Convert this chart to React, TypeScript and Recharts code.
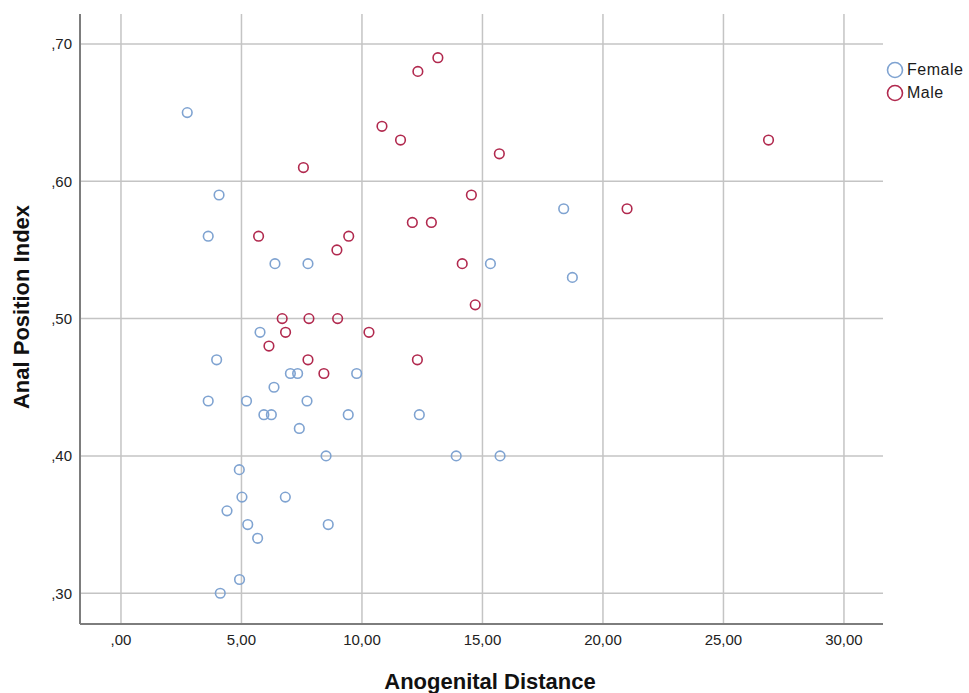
import React from 'react';
import { ScatterChart, Scatter, XAxis, YAxis, CartesianGrid } from 'recharts';

const femaleX = [2.75, 4.07, 3.62, 6.39, 7.76, 5.77, 18.37, 15.33, 18.73, 3.97, 7.03, 7.33, 9.78, 6.35, 3.62, 5.21, 7.72, 5.93, 6.24, 9.43, 12.38, 7.40, 8.51, 13.91, 15.73, 4.91, 5.02, 6.82, 4.40, 5.26, 8.60, 5.67, 4.92, 4.12];
const femaleY = [0.65, 0.59, 0.56, 0.54, 0.54, 0.49, 0.58, 0.54, 0.53, 0.47, 0.46, 0.46, 0.46, 0.45, 0.44, 0.44, 0.44, 0.43, 0.43, 0.43, 0.43, 0.42, 0.40, 0.40, 0.40, 0.39, 0.37, 0.37, 0.36, 0.35, 0.35, 0.34, 0.31, 0.30];

const maleX = [13.15, 12.32, 10.83, 11.60, 7.57, 14.54, 12.09, 12.88, 5.71, 9.45, 8.96, 14.16, 14.70, 6.69, 7.80, 8.99, 6.83, 10.29, 6.14, 15.70, 21.00, 26.87, 7.76, 12.30, 8.42];
const maleY = [0.69, 0.68, 0.64, 0.63, 0.61, 0.59, 0.57, 0.57, 0.56, 0.56, 0.55, 0.54, 0.51, 0.50, 0.50, 0.50, 0.49, 0.49, 0.48, 0.62, 0.58, 0.63, 0.47, 0.47, 0.46];

const xTicks = [0, 5, 10, 15, 20, 25, 30];
const yTicks = [0.3, 0.4, 0.5, 0.6, 0.7];

const seriesNames = ['Female', 'Male'];
const colors = ['#7fa3d1', '#b1294e'];

const femaleData = femaleX.map((x, i) => ({ x, y: femaleY[i] }));
const maleData = maleX.map((x, i) => ({ x, y: maleY[i] }));

const fmt = (v: number) => {
  const s = v.toFixed(2).replace('.', ',');
  return s.startsWith('0,') ? s.slice(1) : s;
};

const FONT = '"Liberation Sans", Arial, sans-serif';

const makeShape = (color: string) => (props: any) => (
  <circle cx={props.cx} cy={props.cy} r={4.8} fill="none" stroke={color} strokeWidth={1.6} />
);

const LegendBox = () => (
  <div style={{ position: 'absolute', left: 885, top: 58, fontFamily: FONT, fontSize: 16, color: '#1a1a1a' }}>
    {seriesNames.map((n, i) => (
      <div key={n} style={{ display: 'flex', alignItems: 'center', height: 23 }}>
        <svg width={20} height={20} style={{ marginRight: 2 }}>
          <circle cx={10} cy={10} r={7.5} fill="none" stroke={colors[i]} strokeWidth={1.6} />
        </svg>
        <span style={{ letterSpacing: 0.5 }}>{n}</span>
      </div>
    ))}
  </div>
);

export default function App() {
  return (
    <div style={{ position: 'absolute', left: 0, top: 0, width: 969, height: 693, background: '#fff' }}>
      <ScatterChart width={969} height={693} margin={{ top: 14, right: 86, bottom: 0, left: 0 }}>
        <CartesianGrid stroke="#c4c4c4" strokeWidth={1.5} syncWithTicks />
        <XAxis
          type="number"
          dataKey="x"
          domain={[-1.7, 31.62]}
          ticks={xTicks}
          allowDataOverflow
          height={69}
          tickFormatter={fmt}
          tickLine={false}
          tickMargin={4}
          axisLine={{ stroke: '#7d7d7d', strokeWidth: 2 }}
          tick={{ fill: '#222', fontSize: 15, fontFamily: FONT }}
          label={{
            content: () => (
              <text x={490} y={689} textAnchor="middle" fontFamily={FONT} fontWeight="bold" fontSize={22} fill="#111">
                Anogenital Distance
              </text>
            ),
          }}
        />
        <YAxis
          type="number"
          dataKey="y"
          domain={[0.2776, 0.7218]}
          ticks={yTicks}
          allowDataOverflow
          width={80}
          tickFormatter={fmt}
          tickLine={false}
          tickMargin={2}
          axisLine={{ stroke: '#7d7d7d', strokeWidth: 2 }}
          tick={{ fill: '#222', fontSize: 15, fontFamily: FONT }}
          label={{
            content: () => (
              <text
                x={29}
                y={307}
                transform="rotate(-90 29 307)"
                textAnchor="middle"
                fontFamily={FONT}
                fontWeight="bold"
                fontSize={22}
                fill="#111"
              >
                Anal Position Index
              </text>
            ),
          }}
        />
        <Scatter name={seriesNames[0]} data={femaleData} shape={makeShape(colors[0])} isAnimationActive={false} />
        <Scatter name={seriesNames[1]} data={maleData} shape={makeShape(colors[1])} isAnimationActive={false} />
      </ScatterChart>
      <LegendBox />
    </div>
  );
}
